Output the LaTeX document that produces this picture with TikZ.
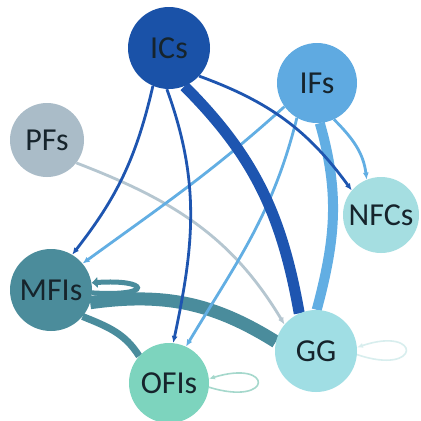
\documentclass[tikz,border=0pt]{standalone}
\usepackage{fontspec}
\setmainfont{Carlito}
\usetikzlibrary{arrows.meta,backgrounds}

% node fills
\definecolor{cICs}{HTML}{1A52A8}
\definecolor{cIFs}{HTML}{5FAAE1}
\definecolor{cPFs}{HTML}{AABCC8}
\definecolor{cNFCs}{HTML}{A5DEE1}
\definecolor{cMFIs}{HTML}{4B8C9B}
\definecolor{cGG}{HTML}{A0DEE4}
\definecolor{cOFIs}{HTML}{7DD4BE}
\definecolor{labelink}{HTML}{16242C}
% edge colours
\definecolor{eICs}{HTML}{1E55B0}
\definecolor{eIFs}{HTML}{62AEE3}
\definecolor{ePFs}{HTML}{B5C6D0}
\definecolor{eMFIs}{HTML}{4A8C9C}
\definecolor{eOFIs}{HTML}{A5D8CC}
\definecolor{eGG}{HTML}{D8EEEE}

\begin{document}
\begin{tikzpicture}[x=1pt,y=1pt,
  hub/.style={circle, minimum size=#1, inner sep=0pt,
    font=\fontsize{32}{32}\selectfont, text=labelink},
  tipA/.style={-{Latex[length=7pt,width=6pt]}},
  icline/.style={draw=eICs, line width=2.8pt, tipA},
  icthick/.style={draw=eICs, line width=11pt},
  ifline/.style={draw=eIFs, line width=2.8pt, tipA},
  ifthick/.style={draw=eIFs, line width=10pt},
  pfline/.style={draw=ePFs, line width=2.8pt, tipA},
  mfthick/.style={draw=eMFIs, line width=13pt},
  mfmid/.style={draw=eMFIs, line width=7pt},
  mfloop/.style={draw=eMFIs, line width=5pt, -{Latex[length=6pt,width=12pt]}},
  ofloop/.style={draw=eOFIs, line width=1.6pt, -{Latex[length=6pt,width=5pt]}},
  ggloop/.style={draw=eGG, line width=1.6pt, -{Latex[length=6pt,width=5pt]}}
]
\useasboundingbox (0,0) rectangle (421,-421);

% factors
\node[hub=82pt, fill=cICs]  (ICs)  at (169,-48)  {ICs};
\node[hub=80pt, fill=cIFs]  (IFs)  at (317,-83)  {IFs};
\node[hub=74pt, fill=cPFs]  (PFs)  at (47,-140)  {PFs};
\node[hub=76pt, fill=cNFCs] (NFCs) at (381,-215) {NFCs};
\node[hub=82pt, fill=cMFIs] (MFIs) at (51,-290)  {MFIs};
\node[hub=80pt, fill=cOFIs] (OFIs) at (169,-383) {OFIs};
\node[hub=82pt, fill=cGG]   (GG)   at (316,-351) {GG};

\begin{scope}[on background layer]
  \fill[white] (0,0) rectangle (421,-421);
  % MFIs links
  \draw[mfthick] (MFIs.342) to[out=8,in=148] (GG.167);
  \draw[mfmid] (MFIs.320) to[out=338,in=122] (OFIs.138);
  \draw[mfloop] (MFIs.-4) .. controls +(62,-4) and +(58,4) .. (MFIs.10);
  % self loops
  \draw[ofloop] (OFIs.-6) .. controls +(65,-20) and +(65,20) .. (OFIs.6);
  \draw[ggloop] (GG.-5) .. controls +(65,-22) and +(65,22) .. (GG.5);
  % PFs link
  \draw[pfline] (PFs.322) to[out=339,in=121] (GG.140);
  % IFs links
  \draw[ifline] (IFs.216) to[out=222,in=36] (MFIs.40);
  \draw[ifline] (IFs.240) to[out=256,in=59] (OFIs.65);
  \draw[ifline] (IFs.295) to[out=315,in=97] (NFCs.112);
  \draw[ifthick] (IFs.274) to[out=286,in=75] (GG.89);
  % ICs links
  \draw[icline] (ICs.247) to[out=257,in=52] (MFIs.59);
  \draw[icline] (ICs.267) to[out=290,in=78] (OFIs.84);
  \draw[icline] (ICs.317) to[out=340,in=126] (NFCs.140);
  \draw[icthick] (ICs.292) to[out=315,in=100] (GG.114);
\end{scope}
\end{tikzpicture}
\end{document}
